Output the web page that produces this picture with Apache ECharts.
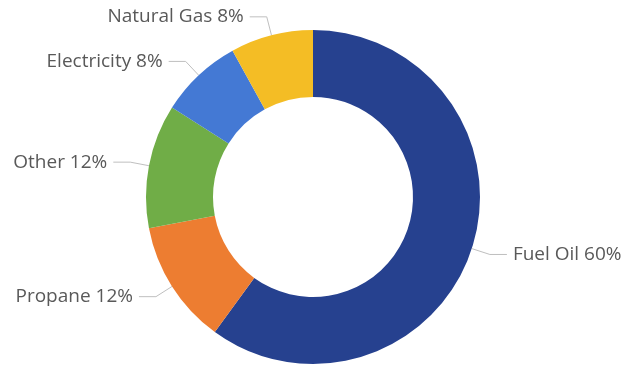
<!DOCTYPE html>
<html>
<head>
<meta charset="utf-8">
<script src="https://cdn.jsdelivr.net/npm/echarts@6/dist/echarts.min.js"></script>
<style>
html,body{margin:0;padding:0;background:#fff;}
#chart{width:624px;height:366px;}
</style>
</head>
<body>
<div id="chart"></div>
<script>
const categories = ["Fuel Oil", "Propane", "Other", "Electricity", "Natural Gas"];
const values = [60, 12, 12, 8, 8];
const colors = ["#26418F", "#ED7D31", "#70AD47", "#4479D4", "#F4BD25"];

const chart = echarts.init(document.getElementById('chart'), null, {renderer: 'canvas'});
chart.setOption({
  animation: false,
  backgroundColor: '#ffffff',
  series: [{
    type: 'pie',
    center: [313, 197],
    radius: [100, 167],
    startAngle: 90,
    clockwise: true,
    avoidLabelOverlap: false,
    data: categories.map((c, i) => ({name: c, value: values[i], itemStyle: {color: colors[i]}})),
    label: {
      show: true,
      formatter: '{b} {c}%',
      color: '#595959',
      fontFamily: 'Open Sans',
      fontSize: 19,
      distanceToLabelLine: 6
    },
    labelLine: {
      show: true,
      length: 19,
      length2: 17,
      lineStyle: {color: '#BFBFBF', width: 1}
    },
    emphasis: {disabled: true}
  }]
});
</script>
</body>
</html>
